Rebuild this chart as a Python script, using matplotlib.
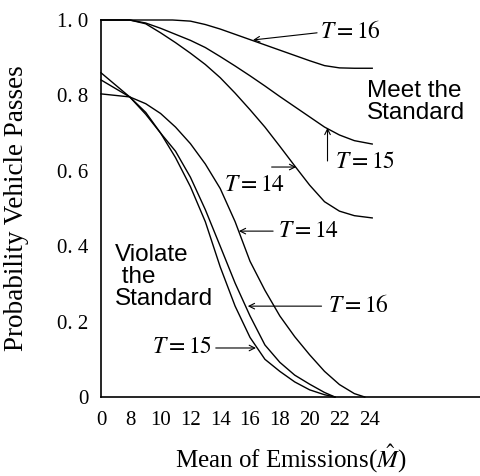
import numpy as np
import matplotlib
matplotlib.use("Agg")
import matplotlib.pyplot as plt

# axis ticks (the emissions axis is broken between 0 and 8)
x_ticks = [0, 8, 10, 12, 14, 16, 18, 20, 22, 24]
y_ticks = [0, 0.2, 0.4, 0.6, 0.8, 1.0]
y_tick_labels = ["0", "0. 2", "0. 4", "0. 6", "0. 8", "1. 0"]

# vehicles that meet the standard
meet_t16_m = [0, 8, 10.8, 12, 13, 14, 15, 16, 17, 18, 19, 20, 21, 22, 23, 24.2]
meet_t16_p = [1.0, 1.0, 1.0, 0.997, 0.988, 0.976, 0.962, 0.948, 0.934,
              0.92, 0.906, 0.892, 0.879, 0.873, 0.872, 0.872]
meet_t15_m = [0, 7.7, 9, 10, 11, 12, 13, 14, 15, 16, 17, 18, 19, 20, 21,
              22, 23, 24.2]
meet_t15_p = [1.0, 1.0, 0.992, 0.978, 0.962, 0.946, 0.927, 0.903, 0.878,
              0.852, 0.825, 0.797, 0.770, 0.743, 0.716, 0.695, 0.680, 0.671]
meet_t14_m = [0, 7.7, 9, 10, 11, 12, 13, 14, 15, 16, 17, 18, 19, 20, 21,
              22, 23, 24.2]
meet_t14_p = [1.0, 1.0, 0.99, 0.966, 0.94, 0.912, 0.882, 0.847, 0.806,
              0.762, 0.716, 0.665, 0.613, 0.562, 0.518, 0.493, 0.481, 0.475]

# vehicles that violate the standard
viol_t15_m = [0, 7.7, 9, 10, 11, 12, 13, 14, 15, 16, 17, 18, 19, 20, 21,
              21.7]
viol_t15_p = [0.86, 0.796, 0.75, 0.70, 0.635, 0.558, 0.465, 0.345, 0.241,
              0.158, 0.100, 0.068, 0.040, 0.019, 0.006, 0]
viol_t16_m = [0, 7.7, 9, 10, 11, 12, 13, 14, 15, 16, 17, 18, 19, 20, 21,
              21.7]
viol_t16_p = [0.841, 0.796, 0.755, 0.70, 0.652, 0.583, 0.497, 0.40, 0.302,
              0.215, 0.138, 0.092, 0.058, 0.034, 0.012, 0]
viol_t14_m = [0, 7.7, 9, 10, 11, 12, 13, 14, 15, 16, 17, 18, 19, 20, 21,
              22, 23, 23.7]
viol_t14_p = [0.804, 0.796, 0.778, 0.752, 0.716, 0.672, 0.618, 0.553, 0.465,
              0.36, 0.283, 0.215, 0.160, 0.112, 0.068, 0.033, 0.009, 0]


def fwd(m):
    m = np.asarray(m, dtype=float)
    return np.where(m <= 8, m / 8.0, 1 + (m - 8) / 2.0)


def inv(p):
    p = np.asarray(p, dtype=float)
    return np.where(p <= 1, p * 8.0, 8 + 2 * (p - 1))


plt.rcParams['font.family'] = ['Liberation Serif', 'DejaVu Serif']
plt.rcParams['mathtext.fontset'] = 'stix'

fig = plt.figure(figsize=(4.81, 4.76), dpi=100)
ax = fig.add_axes([101 / 481, 79 / 476, 380 / 481, 377 / 476])
ax.set_xscale('function', functions=(fwd, inv))

lw = 1.0
for m, p in [(meet_t16_m, meet_t16_p), (meet_t15_m, meet_t15_p),
             (meet_t14_m, meet_t14_p), (viol_t15_m, viol_t15_p),
             (viol_t16_m, viol_t16_p), (viol_t14_m, viol_t14_p)]:
    ax.plot(m, p, color='black', linewidth=lw, clip_on=False)

ax.set_xlim(0, 31.5)
ax.set_ylim(0, 1.0)
ax.spines['top'].set_visible(False)
ax.spines['right'].set_visible(False)
for s in ['left', 'bottom']:
    ax.spines[s].set_linewidth(1.2)

ax.set_xticks(x_ticks, [str(t) for t in x_ticks])
ax.set_yticks(y_ticks, y_tick_labels)
ax.minorticks_off()
ax.tick_params(axis='x', length=0, pad=10, labelsize=15)
ax.tick_params(axis='y', length=0, pad=9, labelsize=15)

fig.text(17 / 481, 1 - 208 / 476, "Probability Vehicle Passes", rotation=90,
         ha='center', va='center', fontsize=19.5)
fig.text(291 / 481, 1 - 468 / 476, r"Mean of Emissions($\hat{M}$)",
         ha='center', va='baseline', fontsize=18)

arrow = dict(arrowstyle='->', lw=0.8, color='black', shrinkA=0, shrinkB=0,
             mutation_scale=10)
tfs = 17
sans = ['Liberation Sans', 'DejaVu Sans']

# meet the standard labels
ax.annotate('', xy=(16.2, 0.947), xytext=(20.5, 0.966), arrowprops=arrow)
ax.text(20.7, 0.968, r"$T=16$", fontsize=tfs, va='center', ha='left')
ax.annotate('', xy=(21.2, 0.714), xytext=(21.2, 0.626), arrowprops=arrow)
ax.text(21.7, 0.621, r"$T=15$", fontsize=tfs, va='center', ha='left')
ax.annotate('', xy=(19.1, 0.61), xytext=(17.45, 0.61), arrowprops=arrow)
ax.text(14.25, 0.560, r"$T=14$", fontsize=tfs, va='center', ha='left')
ax.text(23.85, 0.782, "Meet the\nStandard", fontsize=17.5, va='center',
        ha='left', family=sans, linespacing=1.0)

# violate the standard labels
ax.annotate('', xy=(15.25, 0.44), xytext=(17.55, 0.44), arrowprops=arrow)
ax.text(17.88, 0.44, r"$T=14$", fontsize=tfs, va='center', ha='left')
ax.annotate('', xy=(15.85, 0.241), xytext=(20.8, 0.241), arrowprops=arrow)
ax.text(21.2, 0.241, r"$T=16$", fontsize=tfs, va='center', ha='left')
ax.annotate('', xy=(16.4, 0.13), xytext=(13.7, 0.13), arrowprops=arrow)
ax.text(13.45, 0.13, r"$T=15$", fontsize=tfs, va='center', ha='right')
ax.text(3.76, 0.405, "Violate\n the\nStandard", fontsize=17.5, va='top',
        ha='left', family=sans, linespacing=1.0)

fig.savefig("out.png", dpi=100)
